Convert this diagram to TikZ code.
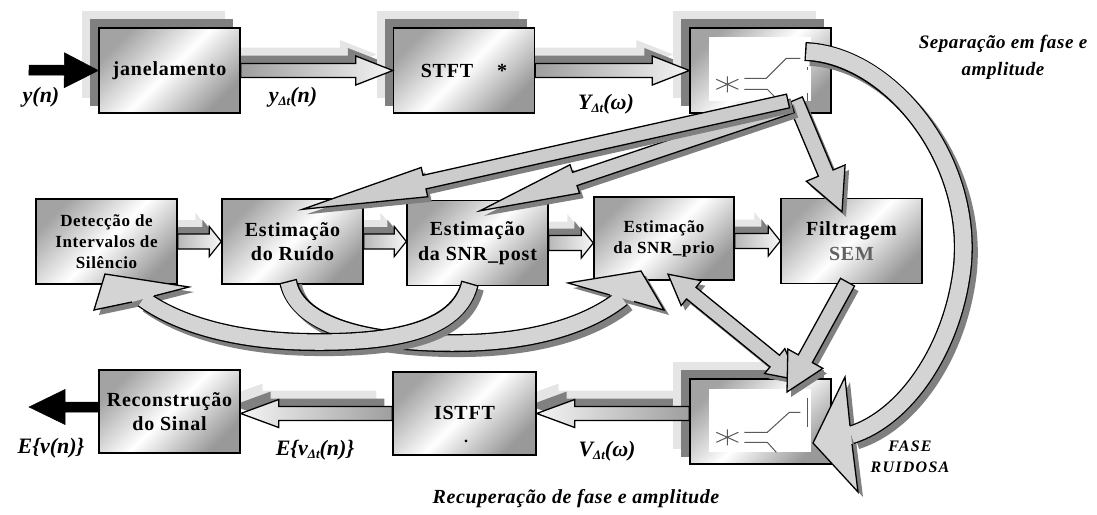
\documentclass[tikz,border=0pt]{standalone}
\usepackage{fontspec}
\setmainfont{Liberation Serif}
\newfontfamily\bfam[LetterSpace=4]{Liberation Serif}
\newfontfamily\lfam[LetterSpace=3]{Liberation Serif}
\newfontfamily\ffam[LetterSpace=8]{Liberation Serif}
\usetikzlibrary{calc}
\pgfdeclarelayer{back}
\pgfsetlayers{back,main}
\colorlet{bandc}{black!17}
% block arrow: [offset]{style}{from}{to}{half shaft}{head length}{half head}
\newcommand\blockarr[7][(0,0)]{%
  \coordinate (baA) at ([shift={#1}]#3);
  \coordinate (baB) at ([shift={#1}]#4);
  \coordinate (baC) at ($(baB)!#6pt!(baA)$);
  \path[#2] ($(baA)!#5pt!90:(baB)$) -- ($(baC)!#5pt!-90:(baA)$) -- ($(baC)!#7pt!-90:(baA)$) -- (baB)
     -- ($(baC)!#7pt!90:(baA)$) -- ($(baC)!#5pt!90:(baA)$) -- ($(baA)!#5pt!-90:(baB)$) -- cycle;
}
% double-headed block arrow
\newcommand\dblarr[7][(0,0)]{%
  \coordinate (baA) at ([shift={#1}]#3);
  \coordinate (baB) at ([shift={#1}]#4);
  \coordinate (baCA) at ($(baA)!#6pt!(baB)$);
  \coordinate (baCB) at ($(baB)!#6pt!(baA)$);
  \path[#2] (baA) -- ($(baCA)!#7pt!90:(baB)$) -- ($(baCA)!#5pt!90:(baB)$) -- ($(baCB)!#5pt!-90:(baA)$)
     -- ($(baCB)!#7pt!-90:(baA)$) -- (baB) -- ($(baCB)!#7pt!90:(baA)$) -- ($(baCB)!#5pt!90:(baA)$)
     -- ($(baCA)!#5pt!-90:(baB)$) -- ($(baCA)!#7pt!-90:(baB)$) -- cycle;
}
% curved band arrow: {path}{outer width}{inner width}{n1}{b1}{tip}{b2}{n2}
\newcommand\band[8]{%
  \begin{scope}[transform canvas={shift={(5,5)}}]
    \draw[line width=#2, black!50] #1;
    \fill[black!50] #4 -- #5 -- #6 -- #7 -- #8 -- cycle;
  \end{scope}
  \draw[line width=#2, black] #1;
  \draw[line width=#3, bandc, shorten <=1.4pt] #1;
  \fill[bandc] #4 -- #5 -- #6 -- #7 -- #8 -- cycle;
  \draw[line width=1.3pt, line join=miter] #4 -- #5 -- #6 -- #7 -- #8;
}
\newcommand\dsub{\raisebox{-3.5pt}{\fontsize{13}{13}\selectfont Δt}}
\begin{document}
\begin{tikzpicture}[x=1pt,y=-1pt,
  box/.style={draw=black, line width=1.4pt, minimum width=141pt, minimum height=85pt, inner sep=0pt,
    align=center, shading=axis, left color=black!36, right color=black!40, middle color=white,
    shading angle=45, font=\fontsize{20}{24.5}\bfam\bfseries},
  smallbox/.style={font=\fontsize{17}{21}\bfam\bfseries},
  harrow/.style={draw=black, line width=1.3pt, line join=miter, left color=black!38, right color=black!4},
  larrow/.style={draw=black, line width=1.3pt, line join=miter, left color=black!4, right color=black!38},
  marrow/.style={draw=black, line width=1.2pt, line join=miter, left color=black!28, right color=black!3},
  blk/.style={draw=black, fill=black, line width=0.5pt},
  diag/.style={draw=black, line width=1.3pt, line join=miter, fill=black!20},
  shl/.style={fill=black!10},
  shd/.style={fill=black!50},
  inner/.style={draw=black!65, line width=1pt},
  lab/.style={font=\fontsize{22}{24}\bfseries\itshape, inner sep=0pt},
  ital/.style={font=\fontsize{19}{27}\lfam\bfseries\itshape, inner sep=0pt, align=center},
  fase/.style={font=\fontsize{16}{21}\ffam\bfseries\itshape, inner sep=0pt, align=center}]
\useasboundingbox (0,0) rectangle (1097,514);

% ---------- boxes ----------
\node[box] (jan) at (169.5,70.5) {\raisebox{-6pt}{janelamento}};
\node[box] (stft) at (464,70.5) {STFT\hspace{24pt}*};
\node[box] (split1) at (760.5,70.5) {};
\node[box, smallbox] (det) at (106.5,241.5) {Detecção de\\Intervalos de\\Silêncio};
\node[box] (ruido) at (292.5,241.5) {Estimação\\do Ruído};
\node[box] (post) at (477.5,243) {\raisebox{-3pt}{Estimação}\\\raisebox{-3pt}{da SNR\_post}};
\node[box, smallbox, minimum width=140pt, minimum height=83pt] (prio) at (664,238.5) {Estimação\\da SNR\_prio};
\node[box] (filt) at (851.5,241) {Filtragem\\\textcolor{black!62}{SEM}};
\node[box] (split2) at (760.5,421.5) {};
\node[box, minimum width=143pt, minimum height=83pt] (istft) at (464.5,413.5) {\raisebox{2pt}{ISTFT}};
\node[font=\fontsize{16}{16}\bfseries, inner sep=0pt] (istftdot) at (466,441) {.};
\node[box, minimum height=83pt] (recon) at (169.5,411.5) {Reconstrução\\do Sinal};

% ---------- helper coordinates ----------
\coordinate (inS) at (29,70);
\coordinate (outT) at (29,407);
\coordinate (outS) at ($(recon.west)+(0,-4.5)$);
\coordinate (m2t) at (post.west |- ruido.east);
\coordinate (m3t) at (prio.west |- post.east);
\coordinate (m4s) at (prio.east |- filt.west);
\coordinate (b1s) at (split2.west |- istft.east);
\coordinate (b2t) at (recon.east |- istft.west);

% ---------- shadows ----------
\begin{pgfonlayer}{back}
  \blockarr[(-16,-16)]{shl}{jan.east}{stft.west}{7}{37}{14.5}
  \blockarr[(-8,-8)]{shd}{jan.east}{stft.west}{7}{37}{14.5}
  \blockarr[(-16,-16)]{shl}{stft.east}{split1.west}{7}{37}{14.5}
  \blockarr[(-8,-8)]{shd}{stft.east}{split1.west}{7}{37}{14.5}
  \blockarr[(-14,-14)]{shl}{det.east}{ruido.west}{7.5}{12}{15}
  \blockarr[(-7,-7)]{shd}{det.east}{ruido.west}{7.5}{12}{15}
  \blockarr[(-14,-14)]{shl}{ruido.east}{m2t}{7.5}{12}{15}
  \blockarr[(-7,-7)]{shd}{ruido.east}{m2t}{7.5}{12}{15}
  \blockarr[(-14,-14)]{shl}{post.east}{m3t}{7.5}{12}{15}
  \blockarr[(-7,-7)]{shd}{post.east}{m3t}{7.5}{12}{15}
  \blockarr[(-14,-14)]{shl}{m4s}{filt.west}{7.5}{12}{15}
  \blockarr[(-7,-7)]{shd}{m4s}{filt.west}{7.5}{12}{15}
  \blockarr[(-16,-16)]{shl}{b1s}{istft.east}{7}{38}{14}
  \blockarr[(-8,-8)]{shd}{b1s}{istft.east}{7}{38}{14}
  \blockarr[(-16,-16)]{shl}{istft.west}{b2t}{7}{38}{14}
  \blockarr[(-8,-8)]{shd}{istft.west}{b2t}{7}{38}{14}
  \foreach \n in {jan,stft,split1,split2}{
    \fill[black!10] ([shift={(-16,-16)}]\n.north west) rectangle ([shift={(-16,-16)}]\n.south east);
    \fill[black!50] ([shift={(-8,-8)}]\n.north west) rectangle ([shift={(-8,-8)}]\n.south east);
  }
\end{pgfonlayer}

% ---------- straight arrows ----------
\blockarr{blk}{inS}{jan.west}{5}{34}{17.5}
\blockarr{blk}{outS}{outT}{5}{36}{17.5}
\blockarr{harrow}{jan.east}{stft.west}{7}{37}{14.5}
\blockarr{harrow}{stft.east}{split1.west}{7}{37}{14.5}
\blockarr{marrow}{det.east}{ruido.west}{7.5}{12}{15}
\blockarr{marrow}{ruido.east}{m2t}{7.5}{12}{15}
\blockarr{marrow}{post.east}{m3t}{7.5}{12}{15}
\blockarr{marrow}{m4s}{filt.west}{7.5}{12}{15}
\blockarr{larrow}{b1s}{istft.east}{7}{38}{14}
\blockarr{larrow}{istft.west}{b2t}{7}{38}{14}

% ---------- splitter symbols ----------
\begin{scope}[shift={(split1.north west)}]
  \fill[white] (20,10) rectangle (122,74);
  \draw[inner] (55,51) -- (77,51) -- (97,31) -- (111,31);
  \draw[inner] (55,62) -- (78,62) -- (88,72);
  \draw[inner] (118,66) -- (118,74);
  \draw[inner] (118,40) -- (118,43);
  \draw[inner] (38,49) -- (38,65) (27,52) -- (49,62) (27,62) -- (49,52);
\end{scope}
\begin{scope}[shift={(split2.north west)}]
  \fill[white] (20,11) rectangle (122,74);
  \draw[inner] (55,54) -- (78,54) -- (100,34) -- (111,34);
  \draw[inner] (55,64) -- (78,64) -- (87,74);
  \draw[inner] (118,20) -- (118,49);
  \draw[inner] (38,51) -- (38,67) (27,54) -- (49,64) (27,64) -- (49,54);
\end{scope}

% ---------- diagonal arrows ----------
\coordinate (d1s) at (788,101);
\coordinate (d1t) at ($(ruido.north)+(10,11)$);
\coordinate (d2s) at (792,106);
\coordinate (d2t) at ($(post.north)+(2.5,11)$);
\coordinate (d3s) at (795,100);
\coordinate (d3t) at ($(filt.north)+(-9.5,14)$);
\coordinate (d4s) at ($(filt.south)+(-4,-2)$);
\coordinate (d4t) at (787,392);
\coordinate (d5a) at ($(prio.south)+(4,-6.5)$);
\coordinate (d5b) at (798,380);

\blockarr[(4,5)]{shd}{d3s}{d3t}{8}{42}{21}
\blockarr{diag}{d3s}{d3t}{8}{42}{21}
\blockarr[(4,5)]{shd}{d2s}{d2t}{7}{100}{15}
\blockarr{diag}{d2s}{d2t}{7}{100}{15}
\blockarr[(4,5)]{shd}{d1s}{d1t}{7}{125}{15}
\blockarr{diag}{d1s}{d1t}{7}{125}{15}
\dblarr[(4,5)]{shd}{d5a}{d5b}{7.5}{30}{16}
\dblarr{diag}{d5a}{d5b}{7.5}{30}{16}
\blockarr[(4,5)]{shd}{d4s}{d4t}{8}{38}{20}
\blockarr{diag}{d4s}{d4t}{8}{38}{20}

% ---------- curved arrows ----------
\band{(288,281) .. controls (298,330) and (380,344) .. (460,343) .. controls (540,342) and (592,322) .. (622,298)}
  {18pt}{15.4pt}{(610,295)}{(568,283)}{(641,271)}{(664,310)}{(634,301.5)}
\band{(470,283) .. controls (458,332) and (390,343) .. (310,342) .. controls (230,341) and (175,322) .. (143,299)}
  {18pt}{15.4pt}{(154,296)}{(189,287)}{(105,274)}{(94,310)}{(132,302)}
\band{(805,51.5) .. controls (890,55) and (975,160) .. (962,270) .. controls (952,350) and (905,418) .. (851,435)}
  {19pt}{16.4pt}{(850,426)}{(845,377)}{(813,443)}{(858,492)}{(852,444)}

% ---------- labels ----------
\node[lab] (lyn) at (41,97) {y(n)};
\node[lab] (lydt) at (293,97) {y\dsub(n)};
\node[lab] (lYw) at (606,104) {Y\dsub(ω)};
\node[lab] (lEv) at (51,448) {E\{v(n)\}};
\node[lab] (lEvdt) at (315,450) {E\{v\dsub(n)\}};
\node[lab] (lVw) at (607,451) {V\dsub(ω)};
\node[ital] (lsep) at (1003,57) {Separação em fase e\\amplitude};
\node[ital, font=\fontsize{20}{24}\lfam\bfseries\itshape] (lrec) at (576,499) {Recuperação de fase e amplitude};
\node[fase] (lfase) at (910,457) {FASE\\RUIDOSA};
\end{tikzpicture}
\end{document}
